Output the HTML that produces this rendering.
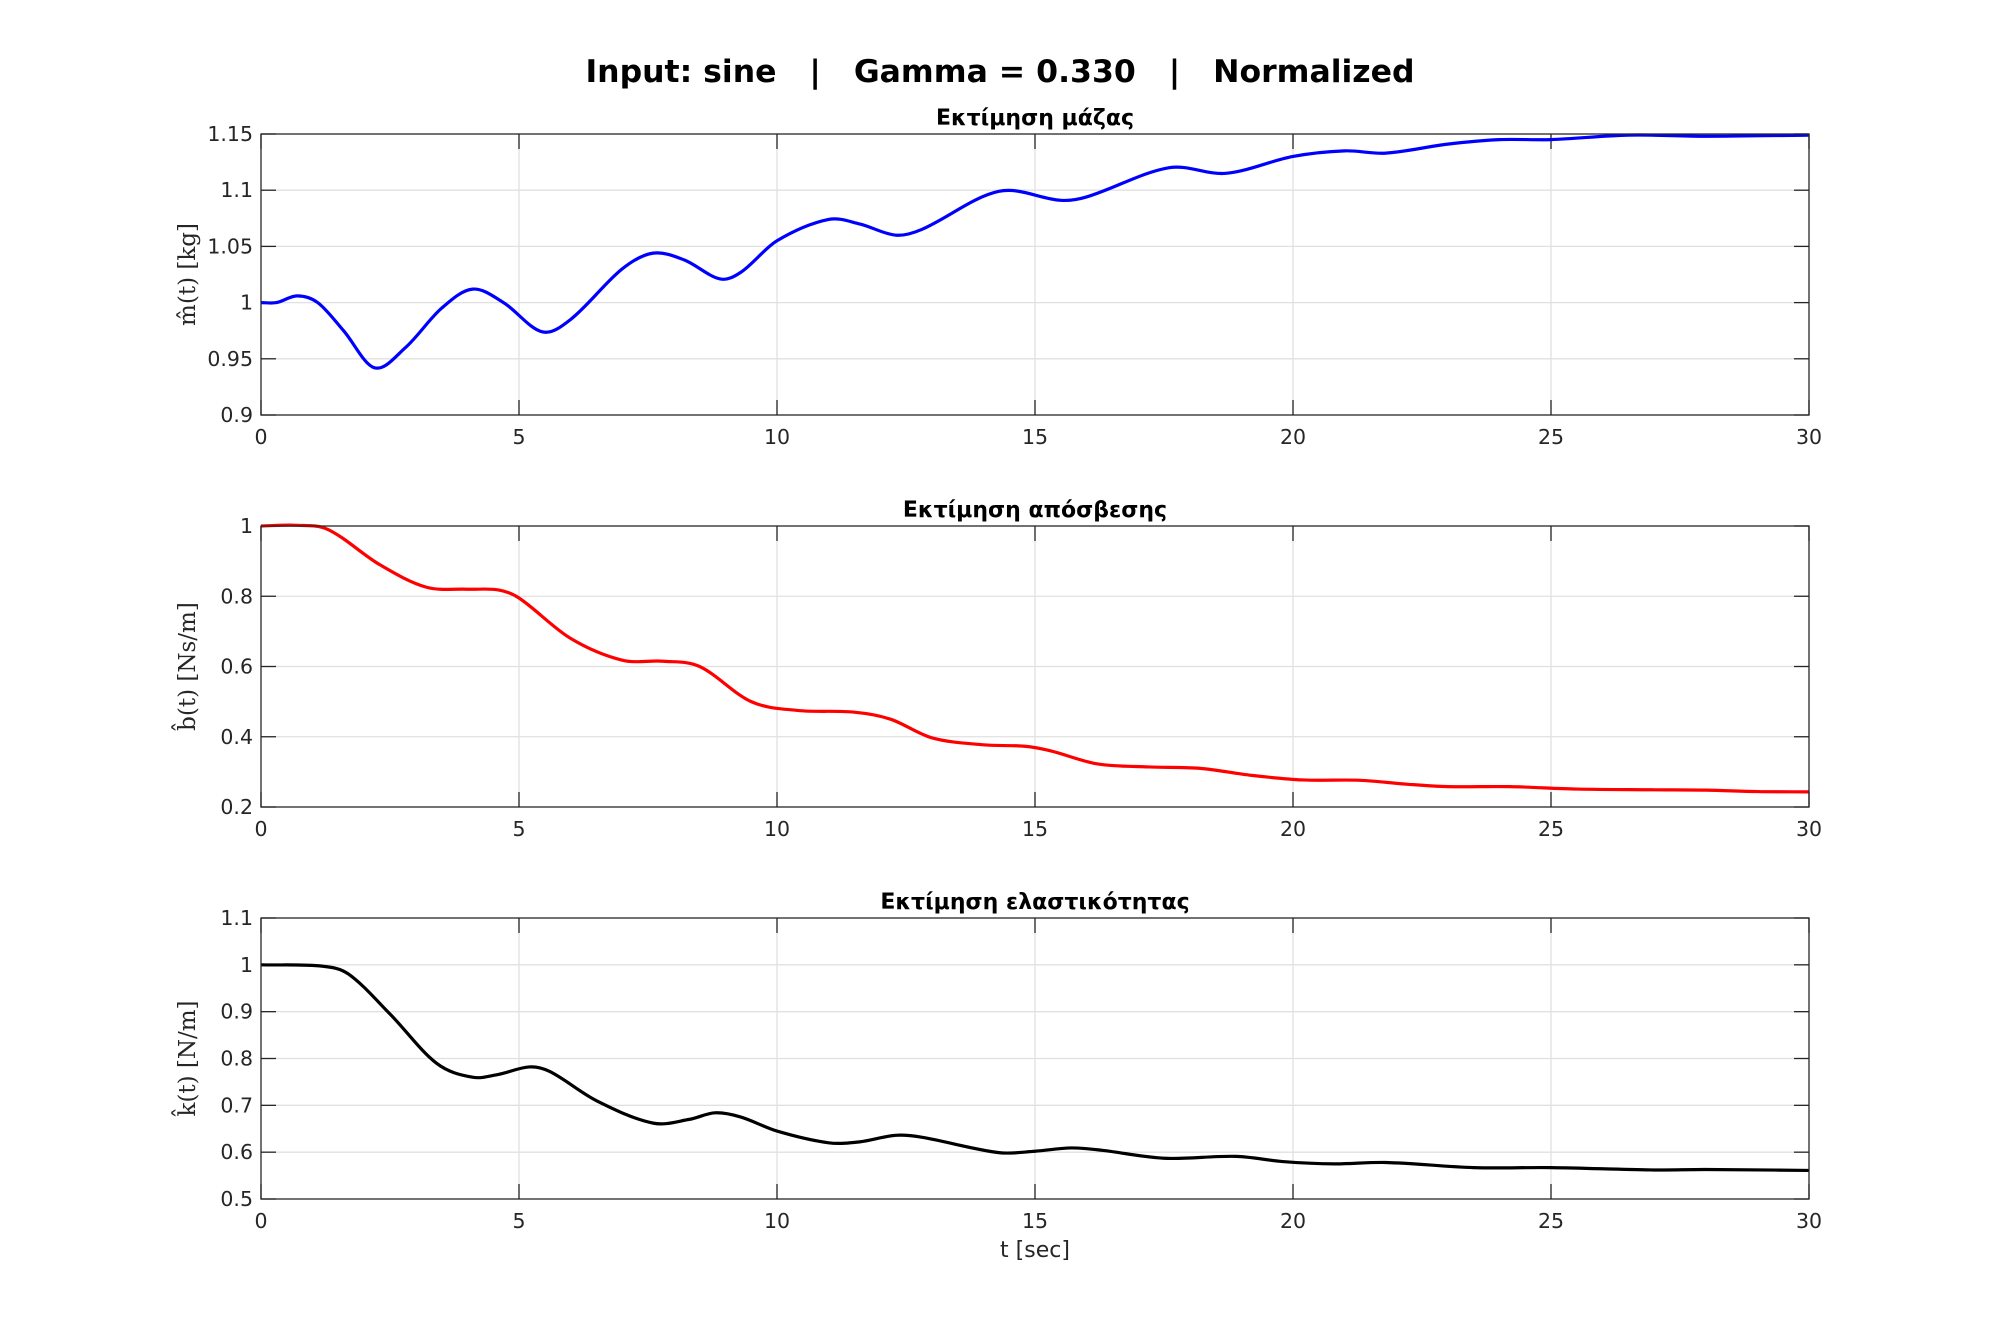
<!DOCTYPE html><html><head><meta charset="utf-8"><style>body{margin:0;background:#fff}svg{display:block}</style></head><body>
<svg id="s" width="2000" height="1344" xmlns="http://www.w3.org/2000/svg" font-family="'DejaVu Sans','Liberation Sans',sans-serif">
<text x="1000" y="82" font-size="31.5" font-weight="bold" text-anchor="middle" fill="#000" xml:space="preserve" style="white-space:pre">Input: sine   |   Gamma = 0.330   |   Normalized</text>
</svg>
<script>
var S=document.getElementById('s'),NS='http://www.w3.org/2000/svg';
function el(t,a,txt){var e=document.createElementNS(NS,t);for(var k in a)e.setAttribute(k,a[k]);if(txt!=null)e.textContent=txt;S.appendChild(e);return e;}
var L=261,R=1809;
var plots=[
{top:134,bot:415,ymin:0.9,ymax:1.15,ticks:[0.9,0.95,1,1.05,1.1,1.15],lab:['0.9','0.95','1','1.05','1.1','1.15'],title:'Εκτίμηση μάζας',yl:'m̂(t)  [kg]',col:'#0000ff',
pts:[[0,1.0],[0.3,1.0],[0.7,1.006],[1.1,1.0],[1.6,0.975],[2.2,0.942],[2.8,0.96],[3.5,0.995],[4.1,1.012],[4.7,1.0],[5.45,0.974],[6,0.985],[7,1.03],[7.6,1.044],[8.2,1.038],[8.9,1.021],[9.3,1.027],[10,1.055],[11,1.074],[11.6,1.07],[12.3,1.06],[12.8,1.065],[14.3,1.099],[15.5,1.091],[16,1.094],[17.6,1.12],[18.7,1.115],[20,1.13],[21,1.135],[21.8,1.133],[23,1.141],[24,1.145],[25,1.145],[26.5,1.149],[28,1.148],[30,1.149]]},
{top:526,bot:807,ymin:0.2,ymax:1,ticks:[0.2,0.4,0.6,0.8,1],lab:['0.2','0.4','0.6','0.8','1'],title:'Εκτίμηση απόσβεσης',yl:'b̂(t)  [Ns/m]',col:'#ff0000',
pts:[[0,1],[0.7,1.002],[1.3,0.99],[2.3,0.89],[3.2,0.826],[4,0.82],[4.6,0.818],[5,0.795],[6,0.68],[7,0.618],[7.8,0.615],[8.5,0.6],[9.5,0.5],[10.4,0.475],[11.5,0.47],[12.2,0.45],[13,0.397],[14,0.377],[14.8,0.373],[15.3,0.36],[16.2,0.323],[17.2,0.314],[18.2,0.31],[19.2,0.29],[20.2,0.277],[21.3,0.276],[22.2,0.265],[23,0.258],[24.2,0.258],[25.5,0.251],[27,0.249],[28,0.248],[29,0.244],[30,0.243]]},
{top:918,bot:1199,ymin:0.5,ymax:1.1,ticks:[0.5,0.6,0.7,0.8,0.9,1,1.1],lab:['0.5','0.6','0.7','0.8','0.9','1','1.1'],title:'Εκτίμηση ελαστικότητας',yl:'k̂(t)  [N/m]',col:'#000000',
pts:[[0,1],[1.2,0.997],[1.7,0.98],[2.5,0.895],[3.4,0.79],[4.1,0.76],[4.6,0.766],[5.2,0.782],[5.6,0.772],[6.5,0.71],[7.6,0.662],[8.3,0.67],[8.8,0.684],[9.3,0.675],[10,0.645],[11,0.62],[11.6,0.622],[12.3,0.636],[12.8,0.632],[14.3,0.599],[15,0.602],[15.7,0.609],[16.3,0.604],[17.5,0.587],[18.9,0.591],[19.8,0.58],[20.8,0.575],[21.8,0.578],[23.5,0.567],[25,0.567],[27,0.562],[28,0.563],[30,0.561]]}];
plots.forEach(function(p){
 var X=function(t){return L+(R-L)*t/30},Y=function(v){return p.bot-(p.bot-p.top)*(v-p.ymin)/(p.ymax-p.ymin)};
 for(var t=0;t<=30;t+=5){var x=X(t);
  if(t>0&&t<30)el('line',{x1:x,x2:x,y1:p.top,y2:p.bot,stroke:'#e0e0e0','stroke-width':1.3});
  el('line',{x1:x,x2:x,y1:p.bot,y2:p.bot-15,stroke:'#262626','stroke-width':1.3});
  el('line',{x1:x,x2:x,y1:p.top,y2:p.top+15,stroke:'#262626','stroke-width':1.3});
  el('text',{x:x,y:p.bot+29,'font-size':20.5,'text-anchor':'middle',fill:'#262626'},String(t));}
 p.ticks.forEach(function(v,i){var y=Y(v);
  if(i>0&&i<p.ticks.length-1)el('line',{x1:L,x2:R,y1:y,y2:y,stroke:'#e0e0e0','stroke-width':1.3});
  el('line',{x1:L,x2:L+15,y1:y,y2:y,stroke:'#262626','stroke-width':1.3});
  el('line',{x1:R,x2:R-15,y1:y,y2:y,stroke:'#262626','stroke-width':1.3});
  el('text',{x:L-8,y:y+7,'font-size':20.5,'text-anchor':'end',fill:'#262626'},p.lab[i]);});
 var P=p.pts,d='M'+X(P[0][0])+' '+Y(P[0][1]);
 for(var i=0;i<P.length-1;i++){var p0=P[Math.max(i-1,0)],p1=P[i],p2=P[i+1],p3=P[Math.min(i+2,P.length-1)];
  var x1=X(p1[0]),y1=Y(p1[1]),x2=X(p2[0]),y2=Y(p2[1]);
  var h=x2-x1;
  var m1=(Y(p2[1])-Y(p0[1]))/(X(p2[0])-X(p0[0])),m2=(Y(p3[1])-Y(p1[1]))/(X(p3[0])-X(p1[0]));
  d+=' C'+(x1+h/3)+' '+(y1+m1*h/3)+' '+(x2-h/3)+' '+(y2-m2*h/3)+' '+x2+' '+y2;}
 el('path',{d:d,fill:'none',stroke:p.col,'stroke-width':3.2});
 el('rect',{x:L,y:p.top,width:R-L,height:p.bot-p.top,fill:'none',stroke:'#262626','stroke-width':1.3});
 el('text',{x:(L+R)/2,y:p.top-9,'font-size':22,'font-weight':'bold','text-anchor':'middle',fill:'#000'},p.title);
 var cy=(p.top+p.bot)/2;
 el('text',{x:0,y:0,'font-size':23,'font-family':"'DejaVu Serif','Liberation Serif',serif",'text-anchor':'middle',fill:'#262626',transform:'translate(195,'+cy+') rotate(-90)'},p.yl);
});
el('text',{x:(L+R)/2,y:1257,'font-size':22,'text-anchor':'middle',fill:'#262626'},'t [sec]');
</script></body></html>
